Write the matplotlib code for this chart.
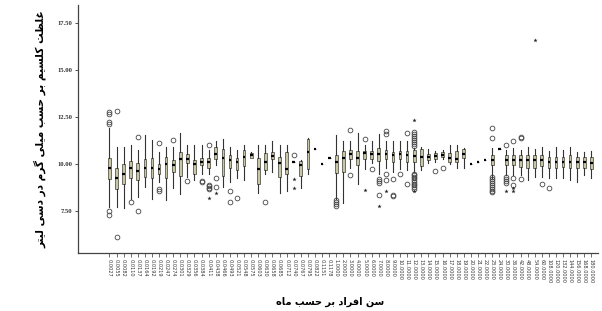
import matplotlib
matplotlib.use("Agg")
import matplotlib.pyplot as plt

# ---- data ----
ages = ["0.0027", "0.0055", "0.0082", "0.0110", "0.0137", "0.0164", "0.0192", "0.0219",
        "0.0247", "0.0274", "0.0301", "0.0329", "0.0356", "0.0384", "0.0411", "0.0438",
        "0.0466", "0.0493", "0.0521", "0.0548", "0.0575", "0.0603", "0.0630", "0.0658",
        "0.0685", "0.0712", "0.0740", "0.0767", "0.0795", "0.0822", "0.1151", "0.1178",
        "1.0000", "2.0000", "3.0000", "4.0000", "5.0000", "6.0000", "7.0000", "8.0000",
        "9.0000", "10.0000", "11.0000", "12.0000", "13.0000", "14.0000", "15.0000",
        "16.0000", "17.0000", "18.0000", "19.0000", "20.0000", "21.0000", "22.0000",
        "23.0000", "24.0000", "30.0000", "36.0000", "42.0000", "48.0000", "54.0000",
        "60.0000", "108.0000", "120.0000", "132.0000", "144.0000", "156.0000",
        "168.0000", "180.0000"]

whisker_lo = [7.73, 7.73, 7.70, 8.17, 8.26, 8.79, 8.17, 9.06, 8.09, 8.76, 8.44, 9.33, 9.15,
              9.50, 9.50, 9.95, 8.79, 9.06, 9.29, 9.18, 10.30, 8.47, 9.50, 9.59, 8.47, 8.56,
              10.10, 8.71, 9.47, 10.82, 10.00, 10.30, 8.17, 7.96, 9.77, 8.97, 9.72, 10.04,
              9.47, 9.82, 9.59, 9.72, 9.68, 9.60, 9.68, 10.04, 10.12, 10.25, 10.00, 9.82,
              9.79, 10.00, 10.11, 10.21, 9.24, 10.80, 9.41, 9.41, 9.41, 9.15, 9.33, 9.33,
              9.24, 9.24, 9.29, 9.15, 9.06, 9.41, 9.29]
q1 = [9.20, 8.69, 8.97, 9.24, 9.18, 9.33, 9.29, 9.50, 9.29, 9.57, 9.38, 10.04, 9.50, 9.95,
      9.82, 10.25, 9.38, 9.82, 9.68, 9.89, 10.35, 8.97, 9.68, 10.25, 9.33, 9.50, 10.10,
      9.38, 9.72, 10.82, 10.00, 10.30, 9.54, 9.59, 10.25, 9.98, 10.28, 10.28, 10.18, 10.25,
      10.12, 10.28, 10.12, 10.12, 9.89, 10.21, 10.25, 10.36, 10.12, 10.12, 10.30, 10.00,
      10.11, 10.21, 9.95, 10.80, 9.95, 9.95, 9.86, 9.82, 9.82, 9.89, 9.82, 9.82, 9.86,
      9.82, 9.82, 9.82, 9.72]
median = [9.80, 9.29, 9.50, 9.80, 9.64, 9.82, 9.80, 9.72, 10.02, 9.93, 10.27, 10.28, 10.02,
          10.14, 10.14, 10.53, 10.30, 10.21, 10.12, 10.39, 10.48, 9.72, 10.14, 10.43, 10.07,
          9.72, 10.12, 9.95, 10.65, 10.82, 10.00, 10.30, 10.12, 10.30, 10.53, 10.34, 10.57,
          10.53, 10.53, 10.53, 10.48, 10.53, 10.46, 10.43, 10.37, 10.36, 10.43, 10.48, 10.30,
          10.28, 10.55, 10.00, 10.11, 10.21, 10.21, 10.80, 10.21, 10.21, 10.21, 10.21, 10.21,
          10.21, 10.12, 10.12, 10.12, 10.12, 10.12, 10.12, 10.04]
q3 = [10.34, 9.82, 10.02, 10.18, 10.04, 10.28, 10.32, 10.00, 10.39, 10.21, 10.64, 10.53,
      10.21, 10.35, 10.35, 10.92, 10.80, 10.46, 10.35, 10.74, 10.60, 10.30, 10.57, 10.65,
      10.39, 10.62, 10.14, 10.19, 11.31, 10.82, 10.00, 10.30, 10.50, 10.69, 10.74, 10.71,
      10.71, 10.71, 10.85, 10.74, 10.66, 10.71, 10.71, 10.74, 10.80, 10.53, 10.60, 10.66,
      10.57, 10.69, 10.80, 10.00, 10.11, 10.21, 10.48, 10.80, 10.48, 10.48, 10.48, 10.48,
      10.48, 10.48, 10.39, 10.39, 10.39, 10.48, 10.39, 10.39, 10.39]
whisker_hi = [11.93, 10.92, 10.92, 11.03, 10.73, 11.52, 11.28, 10.62, 10.92, 10.92, 11.63,
              11.01, 11.01, 11.01, 10.74, 11.22, 11.31, 10.92, 10.73, 11.01, 10.66, 11.01,
              11.01, 11.22, 11.01, 11.01, 10.14, 10.21, 11.36, 10.82, 10.00, 10.30, 11.52,
              11.22, 11.22, 11.63, 11.01, 11.22, 11.58, 11.22, 11.22, 11.22, 11.22, 10.85,
              10.92, 10.78, 10.69, 10.74, 11.01, 11.01, 10.83, 10.00, 10.11, 10.21, 10.83,
              10.80, 10.74, 10.83, 10.74, 10.92, 10.80, 10.92, 10.69, 10.92, 10.74, 10.92,
              10.66, 10.66, 10.71]

# open circles (outliers) and stars (extremes), per category index
outliers = {0: [12.75, 12.65, 12.22, 12.12, 7.50, 7.30], 1: [12.80, 6.15], 3: [7.98],
            4: [11.44, 7.50], 7: [11.12, 8.66, 8.60], 9: [11.26], 11: [9.10],
            13: [9.08, 9.03], 14: [11.01, 8.88, 8.82, 8.76, 8.70], 15: [9.29, 8.79],
            17: [8.60, 7.99], 18: [8.21], 22: [7.99], 26: [10.48],
            32: [8.10, 8.00, 7.90, 7.80], 34: [11.81, 9.41], 36: [11.31], 37: [9.72],
            38: [9.20, 9.10, 9.00, 8.35], 39: [11.75, 11.62, 9.50, 9.15],
            40: [9.20, 8.38, 8.32], 41: [9.49], 42: [11.63, 8.97],
            43: [11.69, 11.58, 11.48, 11.38, 11.28, 11.18, 11.05, 10.95,
                 9.50, 9.42, 9.33, 9.24, 9.15, 9.06, 8.97, 8.88, 8.79, 8.70],
            46: [9.61], 47: [9.80],
            54: [11.90, 11.38, 9.30, 9.20, 9.10, 9.00, 8.90, 8.80, 8.70, 8.60, 8.50],
            56: [11.01, 9.30, 9.20, 9.10, 9.00], 57: [11.21, 9.27, 8.92],
            58: [11.42, 11.36, 9.20], 61: [8.97], 62: [8.71]}
extremes = {14: [8.22], 15: [8.47], 26: [9.22, 8.74], 36: [8.62], 38: [7.78], 39: [8.56],
            43: [12.34, 8.58], 56: [8.56], 57: [8.71, 8.60], 60: [16.6]}

y_title = "غلظت کلسیم بر حسب میلی گرم در دسی لیتر"
x_title = "سن افراد بر حسب ماه"

# ---- minimal Persian shaping (matplotlib has no RTL / joining support) ----
# isolated, final, initial, medial
FORMS = {
    "ا": ("\uFE8D", "\uFE8E", None, None),
    "ب": ("\uFE8F", "\uFE90", "\uFE91", "\uFE92"),
    "ت": ("\uFE95", "\uFE96", "\uFE97", "\uFE98"),
    "ح": ("\uFEA1", "\uFEA2", "\uFEA3", "\uFEA4"),
    "د": ("\uFEA9", "\uFEAA", None, None),
    "ر": ("\uFEAD", "\uFEAE", None, None),
    "س": ("\uFEB1", "\uFEB2", "\uFEB3", "\uFEB4"),
    "ظ": ("\uFEC5", "\uFEC6", "\uFEC7", "\uFEC8"),
    "غ": ("\uFECD", "\uFECE", "\uFECF", "\uFED0"),
    "ف": ("\uFED1", "\uFED2", "\uFED3", "\uFED4"),
    "ل": ("\uFEDD", "\uFEDE", "\uFEDF", "\uFEE0"),
    "م": ("\uFEE1", "\uFEE2", "\uFEE3", "\uFEE4"),
    "ن": ("\uFEE5", "\uFEE6", "\uFEE7", "\uFEE8"),
    "ه": ("\uFEE9", "\uFEEA", "\uFEEB", "\uFEEC"),
    "ک": ("\uFB8E", "\uFB8F", "\uFB90", "\uFB91"),
    "گ": ("\uFB92", "\uFB93", "\uFB94", "\uFB95"),
    "ی": ("\uFBFC", "\uFBFD", "\uFBFE", "\uFBFF"),
}


def shape(text):
    out = []
    for i, ch in enumerate(text):
        if ch not in FORMS:
            out.append(ch)
            continue
        prev = text[i - 1] if i > 0 else ""
        nxt = text[i + 1] if i + 1 < len(text) else ""
        jp = prev in FORMS and FORMS[prev][2] is not None
        jn = FORMS[ch][2] is not None and nxt in FORMS
        iso, fin, ini, med = FORMS[ch]
        if jp and jn:
            out.append(med)
        elif jp:
            out.append(fin)
        elif jn:
            out.append(ini)
        else:
            out.append(iso)
    return "".join(reversed(out))


stats = []
for i in range(len(ages)):
    stats.append(dict(whislo=whisker_lo[i], q1=q1[i], med=median[i], q3=q3[i],
                      whishi=whisker_hi[i], fliers=[]))

fig = plt.figure(figsize=(6.02, 3.11), dpi=100)
ax = fig.add_axes([0.130, 0.186, 0.863, 0.798])

pos = list(range(len(ages)))
ax.bxp(stats, positions=pos, widths=0.38, patch_artist=True, showcaps=False,
       boxprops=dict(facecolor="#c9c6a8", edgecolor="#5a5a50", linewidth=0.6),
       whiskerprops=dict(color="#333333", linewidth=0.8),
       medianprops=dict(color="black", linewidth=1.6))

for k, vals in outliers.items():
    ax.plot([k] * len(vals), vals, "o", ms=3.4, mfc="none", mec="#444444", mew=0.6)
for k, vals in extremes.items():
    ax.plot([k] * len(vals), vals, "*", ms=3.2, color="#222222", mew=0)

ax.set_xlim(-4.4, 68.9)
ax.set_ylim(5.28, 18.44)
ax.set_yticks([7.5, 10.0, 12.5, 15.0, 17.5])
ax.set_yticklabels(["7.50", "10.00", "12.50", "15.00", "17.50"],
                   fontsize=4.8, fontweight="bold", family="Liberation Serif")
ax.set_xticks(pos)
ax.set_xticklabels(ages, rotation=-90, fontsize=3.6, family="DejaVu Sans", color="#333333")
ax.tick_params(axis="y", length=2.5, width=0.6, pad=1.5, colors="#333333")
ax.tick_params(axis="x", length=3, width=0.5, pad=1.2, colors="#333333")

for side in ["top", "right"]:
    ax.spines[side].set_visible(False)
for side in ["left", "bottom"]:
    ax.spines[side].set_color("#444444")
    ax.spines[side].set_linewidth(0.9)

fig.text(0.066, 0.585, shape(y_title), rotation=90, ha="center", va="center",
         fontsize=7.6, fontweight="bold", family=["DejaVu Sans"])
fig.text(0.548, 0.03, shape(x_title), ha="center", va="center",
         fontsize=7.0, fontweight="bold", family=["DejaVu Sans"])

fig.savefig("out.png", dpi=100)
